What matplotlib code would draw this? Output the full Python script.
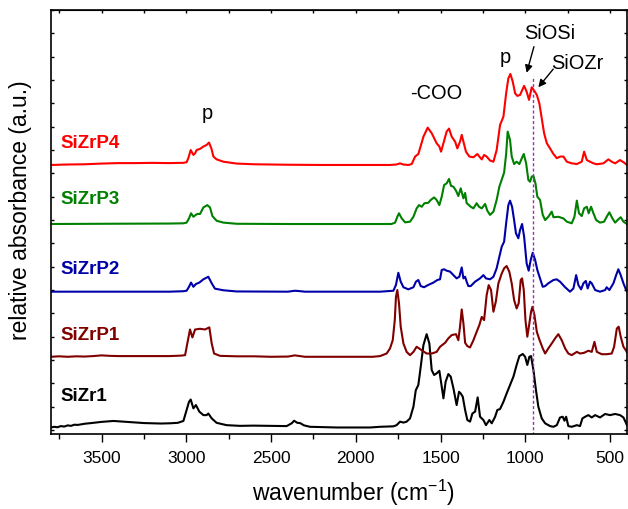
import matplotlib
matplotlib.use("Agg")
import matplotlib.pyplot as plt
from matplotlib.ticker import MultipleLocator, NullFormatter

plt.rcParams['font.family'] = ['Liberation Sans', 'DejaVu Sans']
plt.rcParams['mathtext.fontset'] = 'custom'
plt.rcParams['mathtext.rm'] = 'Liberation Sans'
plt.rcParams['mathtext.it'] = 'Liberation Sans:italic'

# ---- FTIR spectra: wavenumber (cm-1) and relative absorbance above each trace's baseline ----
wn_p4 = [3800, 3700, 3600, 3500, 3400, 3300, 3200, 3100, 3040, 3017, 2998, 2988, 2974, 2958, 2948,
         2939, 2919, 2899, 2880, 2866, 2852, 2840, 2821, 2781, 2703, 2600, 2400, 2200, 2000, 1857,
         1800, 1760, 1739, 1720, 1690, 1670, 1650, 1631, 1601, 1576, 1552, 1523, 1507, 1497, 1483,
         1464, 1450, 1434, 1414, 1401, 1385, 1375, 1365, 1350, 1330, 1306, 1283, 1271, 1257, 1243,
         1228, 1208, 1188, 1169, 1149, 1129, 1113, 1100, 1088, 1074, 1060, 1047, 1031, 1007, 992,
         978, 962, 948, 932, 917, 903, 889, 873, 854, 834, 814, 795, 775, 755, 726,
         696, 667, 653, 637, 618, 598, 578, 539, 510, 490, 470, 441, 417, 400]
abs_p4 = [0.0, 0.02, 0.03, 0.06, 0.08, 0.08, 0.09, 0.08, 0.09, 0.09, 0.12, 0.29, 0.64, 0.43, 0.5,
          0.64, 0.69, 0.79, 0.86, 0.96, 0.71, 0.36, 0.24, 0.14, 0.06, 0.03, 0.01, 0.0, 0.0, 0.0,
          0.0, 0.02, 0.07, 0.02, 0.0, 0.04, 0.36, 0.47, 1.21, 1.6, 1.36, 0.93, 0.79, 0.57, 0.93,
          1.43, 1.56, 1.21, 1.0, 0.71, 1.0, 1.29, 1.0, 0.57, 0.36, 0.33, 0.47, 0.36, 0.24, 0.43,
          0.36, 0.19, 0.14, 0.64, 1.71, 2.07, 3.07, 3.71, 3.9, 3.57, 3.07, 2.96, 3.0, 3.39, 3.14,
          2.79, 3.33, 3.19, 3.0, 2.64, 2.0, 1.36, 0.93, 0.71, 0.47, 0.29, 0.36, 0.36, 0.14, 0.07,
          0.04, 0.14, 0.57, 0.21, 0.14, 0.07, 0.03, 0.07, 0.24, 0.14, 0.07, 0.21, 0.1, 0.0]

wn_p3 = [3800, 3500, 3100, 3017, 2998, 2984, 2972, 2958, 2948, 2935, 2919, 2899, 2876, 2860, 2846,
         2821, 2781, 2703, 2400, 2000, 1857, 1790, 1768, 1755, 1745, 1729, 1709, 1680, 1660, 1641,
         1627, 1611, 1595, 1572, 1558, 1538, 1523, 1507, 1493, 1479, 1464, 1450, 1438, 1424, 1409,
         1395, 1381, 1365, 1355, 1346, 1322, 1306, 1287, 1273, 1257, 1237, 1224, 1208, 1188, 1169,
         1153, 1139, 1125, 1113, 1104, 1090, 1080, 1066, 1051, 1035, 1021, 1009, 995, 982, 972,
         962, 952, 940, 929, 913, 897, 883, 864, 844, 834, 805, 775, 755, 726, 710,
         696, 683, 667, 653, 637, 626, 612, 598, 582, 559, 535, 520, 504, 486, 470,
         451, 437, 421, 400]
abs_p3 = [0.0, 0.01, 0.02, 0.03, 0.06, 0.24, 0.46, 0.31, 0.37, 0.43, 0.43, 0.71, 0.81, 0.71, 0.34,
          0.14, 0.06, 0.01, 0.0, 0.0, 0.0, 0.0, 0.06, 0.31, 0.46, 0.24, 0.07, 0.1, 0.31, 0.67,
          0.81, 0.74, 0.89, 0.91, 1.03, 1.14, 1.03, 0.81, 1.17, 1.67, 1.74, 1.93, 1.63, 1.6, 1.43,
          1.2, 1.53, 1.1, 1.33, 0.9, 0.74, 0.67, 0.89, 0.74, 0.67, 0.86, 0.57, 0.39, 0.53, 1.03,
          1.6, 1.9, 2.2, 3.0, 3.96, 3.6, 2.89, 2.57, 2.67, 2.57, 2.81, 3.0, 2.6, 1.89, 1.81,
          2.03, 2.06, 1.74, 1.17, 1.03, 0.39, 0.17, 0.31, 0.53, 0.29, 0.31, 0.24, 0.1, 0.03, 0.31,
          1.0, 0.46, 0.34, 0.67, 0.74, 0.46, 0.74, 0.46, 0.17, 0.06, 0.1, 0.31, 0.5, 0.24, 0.06,
          0.2, 0.29, 0.1, 0.0]

wn_p2 = [3800, 3100, 3017, 2998, 2984, 2972, 2958, 2943, 2923, 2899, 2870, 2850, 2831, 2781, 2703,
         2400, 2360, 2340, 2300, 2000, 1857, 1778, 1763, 1749, 1735, 1719, 1690, 1660, 1645, 1631,
         1617, 1597, 1572, 1542, 1519, 1503, 1493, 1479, 1464, 1444, 1424, 1405, 1389, 1375, 1365,
         1355, 1346, 1336, 1322, 1296, 1267, 1247, 1232, 1208, 1188, 1169, 1153, 1139, 1125, 1113,
         1100, 1090, 1078, 1066, 1055, 1041, 1031, 1019, 1007, 992, 980, 968, 956, 942, 929,
         913, 897, 883, 864, 834, 815, 795, 765, 736, 716, 700, 687, 671, 657, 643,
         632, 618, 608, 588, 559, 529, 520, 504, 480, 464, 451, 437, 421, 405, 400]
abs_p2 = [0.0, 0.0, 0.02, 0.04, 0.21, 0.39, 0.21, 0.33, 0.39, 0.53, 0.64, 0.36, 0.13, 0.06, 0.01,
          0.0, 0.04, 0.03, 0.0, 0.0, 0.0, 0.04, 0.29, 0.81, 0.43, 0.19, 0.1, 0.19, 0.43, 0.5,
          0.24, 0.19, 0.29, 0.39, 0.5, 0.53, 0.93, 0.96, 0.9, 0.86, 0.71, 0.57, 0.64, 1.04, 0.57,
          0.64, 0.43, 0.24, 0.24, 0.43, 0.57, 0.71, 0.57, 0.53, 0.64, 1.0, 1.5, 1.93, 2.14, 2.93,
          3.71, 3.9, 3.64, 3.07, 2.5, 2.29, 2.64, 2.9, 2.36, 1.21, 0.9, 1.36, 1.67, 1.36, 0.93,
          0.57, 0.21, 0.24, 0.36, 0.5, 0.53, 0.43, 0.19, 0.0, 0.14, 0.71, 0.29, 0.1, 0.36, 0.46,
          0.14, 0.43, 0.36, 0.07, 0.0, 0.07, 0.19, 0.07, 0.36, 0.71, 0.96, 0.71, 0.36, 0.07, 0.0]

wn_p1 = [3800, 3750, 3700, 3650, 3600, 3550, 3500, 3450, 3400, 3300, 3200, 3100, 3030, 3007, 2994,
         2978, 2964, 2948, 2919, 2890, 2864, 2850, 2836, 2801, 2700, 2600, 2500, 2400, 2360, 2340,
         2300, 2100, 1900, 1857, 1818, 1798, 1782, 1770, 1763, 1755, 1745, 1735, 1719, 1700, 1680,
         1660, 1641, 1627, 1607, 1582, 1552, 1523, 1503, 1473, 1454, 1434, 1409, 1395, 1385, 1375,
         1365, 1355, 1342, 1326, 1306, 1287, 1271, 1257, 1243, 1228, 1216, 1202, 1188, 1174, 1159,
         1139, 1125, 1110, 1094, 1080, 1066, 1051, 1039, 1027, 1019, 1009, 999, 988, 976, 966,
         958, 946, 932, 917, 897, 883, 864, 844, 824, 805, 785, 765, 746, 726, 696,
         677, 653, 628, 608, 592, 578, 549, 520, 490, 476, 460, 449, 437, 421, 405, 400]
abs_p1 = [0.0, 0.02, 0.0, 0.02, 0.01, 0.03, 0.06, 0.04, 0.03, 0.03, 0.03, 0.03, 0.05, 0.07, 0.57,
          1.17, 0.83, 1.17, 1.2, 1.17, 1.26, 0.57, 0.14, 0.04, 0.02, 0.02, 0.0, 0.01, 0.06, 0.04,
          0.0, 0.0, 0.0, 0.03, 0.14, 0.36, 0.71, 1.57, 2.57, 2.86, 2.29, 1.29, 0.57, 0.21, 0.07,
          0.21, 0.43, 0.36, 0.26, 0.14, 0.14, 0.21, 0.43, 0.6, 0.79, 0.93, 0.97, 0.71, 1.29, 2.03,
          1.43, 0.6, 0.46, 0.4, 0.71, 1.07, 1.36, 1.71, 1.57, 2.64, 3.07, 2.86, 1.93, 2.36, 3.14,
          3.57, 3.79, 3.89, 3.64, 3.14, 2.43, 2.07, 2.29, 3.29, 3.36, 2.86, 1.57, 0.86, 1.43, 1.93,
          2.14, 1.79, 1.07, 0.74, 0.36, 0.14, 0.36, 0.57, 0.79, 0.97, 0.71, 0.36, 0.14, 0.07, 0.21,
          0.14, 0.17, 0.26, 0.21, 0.64, 0.21, 0.11, 0.11, 0.14, 0.43, 1.21, 1.29, 0.86, 0.43, 0.26, 0.18]

wn_z1 = [3800, 3780, 3760, 3740, 3720, 3700, 3680, 3660, 3640, 3600, 3560, 3500, 3430, 3350, 3250,
         3150, 3096, 3050, 3017, 2998, 2984, 2974, 2958, 2943, 2923, 2899, 2880, 2870, 2850, 2821,
         2762, 2683, 2604, 2408, 2378, 2364, 2345, 2329, 2305, 2270, 2113, 1916, 1857, 1778, 1759,
         1739, 1729, 1719, 1700, 1680, 1660, 1646, 1631, 1617, 1601, 1582, 1566, 1552, 1538, 1523,
         1507, 1493, 1483, 1470, 1454, 1440, 1424, 1405, 1391, 1381, 1369, 1355, 1342, 1326, 1312,
         1296, 1281, 1267, 1247, 1232, 1212, 1198, 1178, 1165, 1149, 1129, 1110, 1090, 1070, 1051,
         1035, 1015, 1001, 988, 976, 966, 952, 937, 923, 903, 883, 854, 834, 814, 795,
         779, 769, 759, 746, 726, 696, 677, 663, 647, 628, 608, 588, 559, 529, 500,
         470, 441, 421, 405, 400]
abs_z1 = [0.11, 0.14, 0.12, 0.17, 0.15, 0.2, 0.18, 0.23, 0.22, 0.27, 0.3, 0.35, 0.39, 0.35, 0.3,
          0.28, 0.29, 0.31, 0.39, 0.86, 1.21, 1.31, 0.93, 1.07, 0.79, 0.64, 0.64, 0.71, 0.5, 0.31,
          0.21, 0.18, 0.19, 0.17, 0.29, 0.4, 0.31, 0.3, 0.2, 0.14, 0.11, 0.11, 0.14, 0.16, 0.21,
          0.36, 0.34, 0.32, 0.36, 0.5, 1.0, 1.71, 1.93, 2.71, 3.64, 4.11, 3.71, 2.57, 2.36, 2.43,
          2.54, 1.86, 1.36, 2.07, 2.4, 2.29, 1.79, 1.07, 1.64, 1.57, 1.43, 0.86, 0.43, 0.36, 0.71,
          0.79, 1.4, 0.57, 0.43, 0.21, 0.43, 0.29, 0.57, 0.86, 0.9, 1.21, 1.57, 1.93, 2.29, 2.79,
          3.17, 3.26, 3.14, 2.79, 3.14, 3.17, 2.57, 1.71, 1.0, 0.5, 0.29, 0.17, 0.14, 0.21, 0.54,
          0.57, 0.4, 0.57, 0.17, 0.14, 0.21, 0.17, 0.5, 0.57, 0.64, 0.54, 0.64, 0.54, 0.69, 0.64,
          0.69, 0.64, 0.54, 0.29, 0.2]

names = ["SiZr1", "SiZrP1", "SiZrP2", "SiZrP3", "SiZrP4"]
offsets = [0.0, 3.14, 5.93, 8.83, 11.36]
colors = ["#000000", "#800000", "#0000a8", "#008000", "#ff0000"]
label_y = [1.43, 4.07, 6.86, 9.86, 12.29]
spectra = [(wn_z1, abs_z1), (wn_p1, abs_p1), (wn_p2, abs_p2), (wn_p3, abs_p3), (wn_p4, abs_p4)]

fig = plt.figure(figsize=(6.28, 5.09), dpi=100)
ax = fig.add_axes([0.0807, 0.1473, 0.9177, 0.833])

for (wn, ab), off, col, name, ly in zip(spectra, offsets, colors, names, label_y):
    ax.plot(wn, [a + off for a in ab], color=col, lw=1.5,
            solid_joinstyle='round', solid_capstyle='round')
    ax.text(3742, ly, name, color=col, fontsize=13.5, fontweight='bold',
            ha='left', va='center')

# Si-O-Zr band position
ax.plot([955, 955], [-0.2, 15.17], color='#9b30b0', lw=1.0, ls=(0, (2.2, 1.6)))

# band assignments
ax.text(2874, 13.32, "p", fontsize=14.4, ha='center', va='baseline')
ax.text(1523, 14.19, "-COO", fontsize=14.4, ha='center', va='baseline')
ax.text(1116, 15.71, "p", fontsize=14.4, ha='center', va='baseline')
ax.text(858, 16.74, "SiOSi", fontsize=14.4, ha='center', va='baseline')
ax.text(691, 15.46, "SiOZr", fontsize=14.4, ha='center', va='baseline')
arrow = dict(arrowstyle='-|>', color='black', lw=1.0, mutation_scale=11,
             shrinkA=0, shrinkB=0)
ax.annotate("", xy=(992, 15.31), xytext=(949, 16.43), arrowprops=arrow)
ax.annotate("", xy=(923, 14.69), xytext=(835, 15.47), arrowprops=arrow)

ax.set_xlim(3800, 400)
ax.set_ylim(-0.17, 18.0)
ax.xaxis.set_major_locator(MultipleLocator(500))
ax.xaxis.set_minor_locator(MultipleLocator(250))
ax.yaxis.set_major_locator(MultipleLocator(1))
ax.yaxis.set_major_formatter(NullFormatter())

ax.tick_params(axis='x', which='major', direction='out', length=5.5, width=1.0,
               labelsize=12.5, pad=6.5, top=False)
ax.tick_params(axis='x', which='minor', direction='out', length=3.5, width=1.0, top=False)
ax.tick_params(axis='y', which='major', direction='in', length=2.5, width=1.0,
               left=True, right=True)
for s in ax.spines.values():
    s.set_linewidth(1.2)

# inward ticks on the top edge
top = ax.secondary_xaxis('top')
top.xaxis.set_major_locator(MultipleLocator(250))
top.xaxis.set_major_formatter(NullFormatter())
top.tick_params(direction='in', length=2.5, width=1.0)

ax.set_xlabel("wavenumber (cm$^{-1}$)", fontsize=16.5)
ax.xaxis.set_label_coords(0.525, -0.14)
ax.xaxis.label.set_va('center')
ax.set_ylabel("relative absorbance (a.u.)", fontsize=16.5)
ax.yaxis.set_label_coords(-0.053, 0.528)
ax.yaxis.label.set_va('center')

fig.savefig("out.png", dpi=100)
